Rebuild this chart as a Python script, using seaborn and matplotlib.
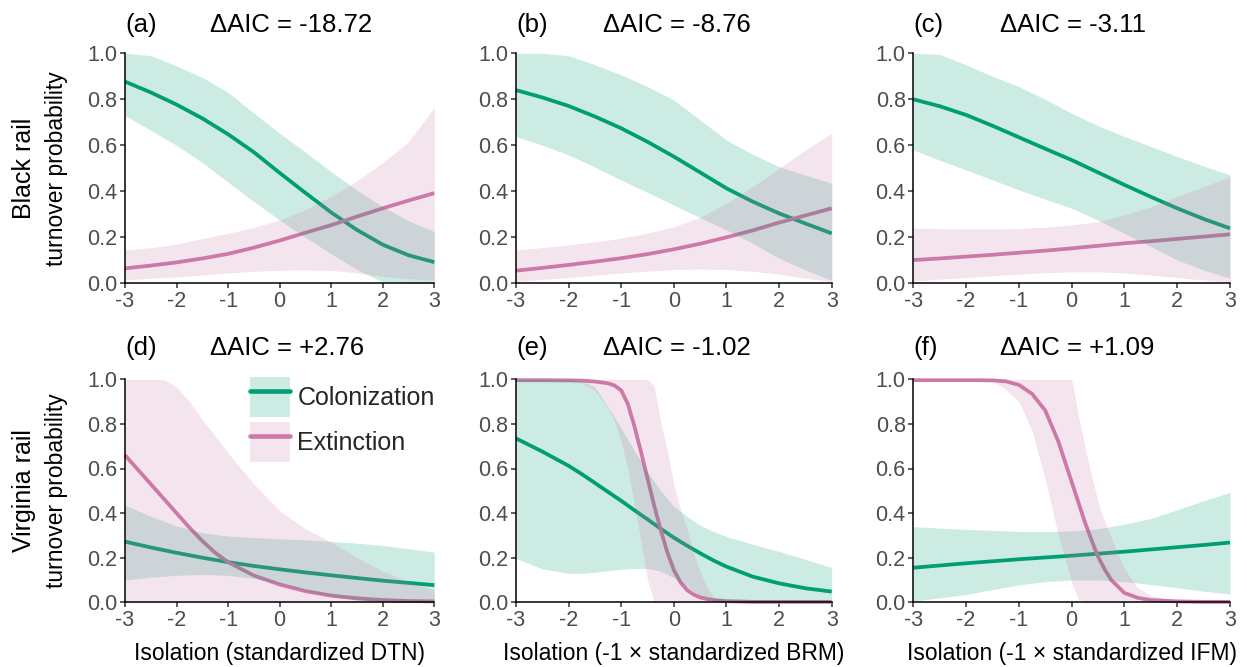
import matplotlib
matplotlib.use("Agg")
import matplotlib.pyplot as plt
import seaborn as sns
from matplotlib.patches import Patch
from matplotlib.lines import Line2D

# ---------------- data ----------------
X_HALF = [-3, -2.5, -2, -1.5, -1, -0.5, 0, 0.5, 1, 1.5, 2, 2.5, 3]

# (a) Black rail, DTN
A_COL = [0.877, 0.83, 0.777, 0.717, 0.648, 0.57, 0.48, 0.393, 0.308, 0.232, 0.168, 0.122, 0.092]
A_COL_HI = [1.0, 0.99, 0.945, 0.895, 0.83, 0.74, 0.652, 0.57, 0.485, 0.405, 0.333, 0.272, 0.225]
A_COL_LO = [0.73, 0.665, 0.6, 0.525, 0.44, 0.355, 0.275, 0.2, 0.128, 0.06, 0.006, 0.0, 0.0]
A_EXT = [0.065, 0.077, 0.091, 0.108, 0.128, 0.155, 0.186, 0.22, 0.253, 0.29, 0.326, 0.36, 0.392]
A_EXT_HI = [0.145, 0.155, 0.17, 0.195, 0.217, 0.243, 0.275, 0.32, 0.378, 0.445, 0.525, 0.615, 0.765]
A_EXT_LO = [0.015, 0.022, 0.028, 0.036, 0.045, 0.052, 0.057, 0.058, 0.056, 0.045, 0.03, 0.02, 0.014]

# (b) Black rail, BRM
B_COL = [0.84, 0.808, 0.771, 0.725, 0.674, 0.615, 0.551, 0.482, 0.413, 0.355, 0.304, 0.26, 0.217]
B_COL_HI = [1.0, 1.0, 0.99, 0.95, 0.906, 0.855, 0.797, 0.71, 0.623, 0.56, 0.507, 0.47, 0.435]
B_COL_LO = [0.638, 0.6, 0.558, 0.505, 0.449, 0.395, 0.34, 0.285, 0.232, 0.174, 0.109, 0.058, 0.012]
B_EXT = [0.055, 0.067, 0.08, 0.094, 0.109, 0.127, 0.148, 0.172, 0.2, 0.23, 0.264, 0.295, 0.326]
B_EXT_HI = [0.145, 0.155, 0.167, 0.18, 0.196, 0.218, 0.246, 0.287, 0.348, 0.42, 0.5, 0.58, 0.652]
B_EXT_LO = [0.008, 0.017, 0.025, 0.035, 0.045, 0.053, 0.06, 0.062, 0.06, 0.052, 0.04, 0.022, 0.007]

# (c) Black rail, IFM
C_COL = [0.80, 0.77, 0.732, 0.685, 0.635, 0.585, 0.536, 0.482, 0.428, 0.376, 0.326, 0.28, 0.239]
C_COL_HI = [1.0, 0.995, 0.95, 0.9, 0.855, 0.8, 0.739, 0.685, 0.638, 0.595, 0.551, 0.51, 0.471]
C_COL_LO = [0.58, 0.535, 0.493, 0.45, 0.406, 0.366, 0.326, 0.275, 0.217, 0.16, 0.101, 0.058, 0.022]
C_EXT = [0.101, 0.108, 0.116, 0.124, 0.133, 0.142, 0.152, 0.163, 0.174, 0.183, 0.193, 0.203, 0.213]
C_EXT_HI = [0.24, 0.238, 0.236, 0.236, 0.238, 0.244, 0.254, 0.268, 0.297, 0.333, 0.377, 0.42, 0.464]
C_EXT_LO = [0.01, 0.018, 0.025, 0.033, 0.04, 0.046, 0.05, 0.05, 0.045, 0.036, 0.025, 0.014, 0.005]

# (d) Virginia rail, DTN
D_COL = [0.272, 0.246, 0.222, 0.2, 0.18, 0.163, 0.148, 0.134, 0.121, 0.109, 0.097, 0.087, 0.077]
D_COL_HI = [0.436, 0.385, 0.342, 0.312, 0.297, 0.29, 0.285, 0.28, 0.273, 0.265, 0.255, 0.24, 0.225]
D_COL_LO = [0.1, 0.113, 0.121, 0.125, 0.121, 0.107, 0.085, 0.053, 0.025, 0.01, 0.004, 0.001, 0.0]
D_X_EXT = [-3, -2.5, -2.25, -2, -1.75, -1.5, -1.25, -1, -0.5, 0, 0.5, 1, 1.5, 2, 2.5, 3]
D_EXT = [0.66, 0.53, 0.465, 0.4, 0.335, 0.275, 0.222, 0.18, 0.12, 0.08, 0.05, 0.03, 0.018, 0.01, 0.006, 0.004]
D_EXT_HI = [1.0, 1.0, 1.0, 0.965, 0.9, 0.82, 0.745, 0.67, 0.53, 0.41, 0.33, 0.27, 0.2, 0.14, 0.09, 0.055]
D_EXT_LO = [0.0] * 16

# (e) Virginia rail, BRM
E_X_COL = [-3, -2.5, -2, -1.75, -1.5, -1.25, -1, -0.75, -0.5, -0.25, 0, 0.25, 0.5, 0.75, 1, 1.5, 2, 2.5, 3]
E_COL = [0.735, 0.676, 0.612, 0.575, 0.535, 0.495, 0.455, 0.413, 0.372, 0.33, 0.29, 0.254, 0.22,
         0.188, 0.16, 0.115, 0.085, 0.063, 0.048]
E_COL_HI = [1.0, 1.0, 1.0, 0.99, 0.965, 0.875, 0.78, 0.68, 0.585, 0.5, 0.43, 0.385, 0.345,
            0.318, 0.295, 0.26, 0.228, 0.193, 0.155]
E_COL_LO = [0.197, 0.15, 0.13, 0.13, 0.135, 0.142, 0.148, 0.152, 0.152, 0.14, 0.11, 0.068, 0.03,
            0.008, 0.002, 0.0, 0.0, 0.0, 0.0]
E_X_EXT = [-3, -2.5, -2, -1.75, -1.5, -1.25, -1.125, -1, -0.875, -0.75, -0.625, -0.5, -0.375,
           -0.25, -0.125, 0, 0.125, 0.25, 0.375, 0.5, 0.625, 0.75, 1, 1.5, 2, 2.5, 3]
E_EXT = [0.996, 0.996, 0.995, 0.994, 0.99, 0.982, 0.972, 0.95, 0.89, 0.79, 0.675, 0.555, 0.435,
         0.325, 0.225, 0.145, 0.09, 0.055, 0.035, 0.022, 0.015, 0.01, 0.005, 0.002, 0.002, 0.002, 0.002]
E_EXT_HI = [1.0, 1.0, 1.0, 1.0, 1.0, 1.0, 1.0, 1.0, 1.0, 1.0, 1.0, 1.0, 0.97,
            0.81, 0.68, 0.53, 0.42, 0.33, 0.22, 0.14, 0.07, 0.025, 0.003, 0.0, 0.0, 0.0, 0.0]
E_EXT_LO = [1.0, 1.0, 1.0, 0.985, 0.95, 0.87, 0.81, 0.72, 0.6, 0.44, 0.27, 0.1, 0.0,
            0.0, 0.0, 0.0, 0.0, 0.0, 0.0, 0.0, 0.0, 0.0, 0.0, 0.0, 0.0, 0.0, 0.0]

# (f) Virginia rail, IFM
F_COL = [0.155, 0.165, 0.175, 0.184, 0.193, 0.201, 0.209, 0.218, 0.227, 0.237, 0.247, 0.257, 0.268]
F_COL_HI = [0.339, 0.333, 0.327, 0.322, 0.318, 0.317, 0.32, 0.33, 0.35, 0.376, 0.415, 0.455, 0.493]
F_COL_LO = [0.005, 0.02, 0.035, 0.057, 0.078, 0.093, 0.1, 0.1, 0.093, 0.08, 0.065, 0.05, 0.037]
F_X_EXT = [-3, -2.5, -2, -1.75, -1.5, -1.25, -1, -0.75, -0.5, -0.25, 0, 0.125, 0.25, 0.375,
           0.5, 0.625, 0.75, 1, 1.25, 1.5, 2, 2.5, 3]
F_EXT = [0.996, 0.996, 0.996, 0.996, 0.995, 0.991, 0.975, 0.935, 0.86, 0.72, 0.54, 0.45, 0.36,
         0.28, 0.205, 0.148, 0.1, 0.042, 0.02, 0.01, 0.004, 0.002, 0.002]
F_EXT_HI = [1.0, 1.0, 1.0, 1.0, 1.0, 1.0, 1.0, 1.0, 1.0, 1.0, 1.0, 0.84, 0.70, 0.57, 0.45,
            0.36, 0.29, 0.15, 0.065, 0.03, 0.008, 0.002, 0.001]
F_EXT_LO = [1.0, 1.0, 1.0, 1.0, 0.995, 0.955, 0.9, 0.77, 0.55, 0.3, 0.09, 0.015, 0.0, 0.0, 0.0,
            0.0, 0.0, 0.0, 0.0, 0.0, 0.0, 0.0, 0.0]

PANEL_TAGS = ["(a)", "(b)", "(c)", "(d)", "(e)", "(f)"]
DELTA_AIC = ["\u0394AIC = -18.72", "\u0394AIC = -8.76", "\u0394AIC = -3.11",
             "\u0394AIC = +2.76", "\u0394AIC = -1.02", "\u0394AIC = +1.09"]
X_LABELS = ["Isolation (standardized DTN)",
            "Isolation (-1 \u00d7 standardized BRM)",
            "Isolation (-1 \u00d7 standardized IFM)"]
ROW_LABELS = ["Black rail", "Virginia rail"]
ROW_SUB = "turnover probability"
SERIES = ["Colonization", "Extinction"]
X_TICKS = [-3, -2, -1, 0, 1, 2, 3]
Y_TICKS = [0.0, 0.2, 0.4, 0.6, 0.8, 1.0]

# ---------------- style ----------------
sns.set_theme(style="ticks")
plt.rcParams["font.family"] = ["Liberation Sans", "DejaVu Sans"]
plt.rcParams["axes.unicode_minus"] = False

GREEN = "#009E73"
PINK = "#CC79A7"
LW = 2.7

W, H = 1247, 667
fig = plt.figure(figsize=(W / 100, H / 100), dpi=100)

cols_px = [(125.0, 434.3), (516.0, 831.7), (913.3, 1230.0)]
rows_px = [(53.3, 283.3), (379.3, 602.3)]

panels = [
    (X_HALF, A_COL, A_COL_LO, A_COL_HI, X_HALF, A_EXT, A_EXT_LO, A_EXT_HI),
    (X_HALF, B_COL, B_COL_LO, B_COL_HI, X_HALF, B_EXT, B_EXT_LO, B_EXT_HI),
    (X_HALF, C_COL, C_COL_LO, C_COL_HI, X_HALF, C_EXT, C_EXT_LO, C_EXT_HI),
    (X_HALF, D_COL, D_COL_LO, D_COL_HI, D_X_EXT, D_EXT, D_EXT_LO, D_EXT_HI),
    (E_X_COL, E_COL, E_COL_LO, E_COL_HI, E_X_EXT, E_EXT, E_EXT_LO, E_EXT_HI),
    (X_HALF, F_COL, F_COL_LO, F_COL_HI, F_X_EXT, F_EXT, F_EXT_LO, F_EXT_HI),
]

axes = []
for i, (xc, yc, lc, hc, xe, ye, le, he) in enumerate(panels):
    r, c = divmod(i, 3)
    x0, x1 = cols_px[c]
    y0, y1 = rows_px[r]
    ax = fig.add_axes([x0 / W, 1 - y1 / H, (x1 - x0) / W, (y1 - y0) / H])
    axes.append(ax)

    # lines first, ribbons on top (as in the reference)
    sns.lineplot(x=xc, y=yc, color=GREEN, lw=LW, ax=ax, estimator=None, sort=False,
                 zorder=2, clip_on=False, solid_joinstyle="round", solid_capstyle="butt")
    sns.lineplot(x=xe, y=ye, color=PINK, lw=LW, ax=ax, estimator=None, sort=False,
                 zorder=2, clip_on=False, solid_joinstyle="round", solid_capstyle="butt")
    ax.fill_between(xc, lc, hc, color=GREEN, alpha=0.2, lw=0, zorder=3)
    ax.fill_between(xe, le, he, color=PINK, alpha=0.2, lw=0, zorder=3)

    ax.set_xlim(-3, 3)
    ax.set_ylim(0, 1)
    ax.set_xticks(X_TICKS)
    ax.set_xticklabels([str(t) for t in X_TICKS])
    ax.set_yticks(Y_TICKS)
    ax.set_yticklabels([f"{t:.1f}" for t in Y_TICKS])
    sns.despine(ax=ax)
    for s in ("left", "bottom"):
        ax.spines[s].set_linewidth(1.1)
        ax.spines[s].set_color("black")
        ax.spines[s].set_zorder(4)
    ax.tick_params(axis="both", direction="out", length=3.5, width=1.1, color="#333333",
                   labelsize=15.5, labelcolor="#4D4D4D", pad=2)
    ax.set_xlabel("")
    ax.set_ylabel("")

    tb = 1.0926 if r == 0 else 1.109
    ax.text(0.0, tb, PANEL_TAGS[i], transform=ax.transAxes, fontsize=18.5,
            ha="left", va="baseline", color="black")
    ax.text(0.275, tb, DELTA_AIC[i], transform=ax.transAxes, fontsize=18.5,
            ha="left", va="baseline", color="black")

    if r == 1:
        ax.set_xlabel(X_LABELS[c], fontsize=16.5, color="black", labelpad=8)

# row labels
for r, (y0, y1) in enumerate(rows_px):
    yc = 1 - (y0 + y1) / 2 / H
    fig.text(24 / W, yc, ROW_LABELS[r], rotation=90, ha="center", va="center",
             fontsize=18, color="black")
    fig.text(57 / W, yc, ROW_SUB, rotation=90, ha="center", va="center",
             fontsize=16.5, color="black")

# legend in panel (d)
handles = [
    (Patch(facecolor=GREEN, alpha=0.2, lw=0), Line2D([], [], color=GREEN, lw=LW + 0.6)),
    (Patch(facecolor=PINK, alpha=0.2, lw=0), Line2D([], [], color=PINK, lw=LW + 0.6)),
]
axes[3].legend(handles, SERIES, loc="upper left", bbox_to_anchor=(0.404, 1.012),
               frameon=False, fontsize=18, handlelength=1.6, handleheight=2.085,
               labelspacing=0.2, handletextpad=0.3, borderpad=0, borderaxespad=0)

fig.savefig("out.png", dpi=100, facecolor="white")
